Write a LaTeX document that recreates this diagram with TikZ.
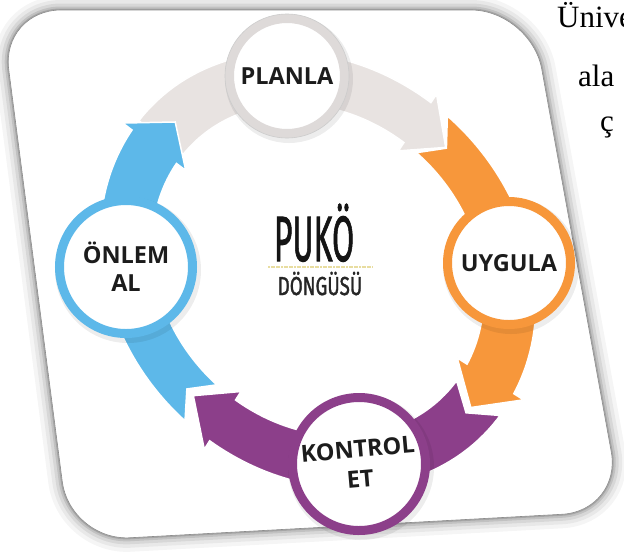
\documentclass[tikz,border=0pt]{standalone}
\usepackage{fontspec}
\usepackage{graphicx}
\setmainfont{Liberation Serif}
\newfontfamily\lblfont{Open Sans}
\newfontfamily\titlefont[FakeBold=1.6]{Fira Sans}
\definecolor{cblue}{HTML}{5DB8E9}
\definecolor{corange}{HTML}{F7973B}
\definecolor{cpurple}{HTML}{8C3F8A}
\definecolor{cgray}{HTML}{E8E3E1}
\definecolor{cring}{HTML}{DEDAD9}
\definecolor{ctext}{HTML}{1C1C1C}
\definecolor{cline}{HTML}{E8DDA0}
\newcommand{\bandarrow}[5]{%
 \fill[#5, draw=white, line width=1.5pt] (#1:201) arc[start angle=#1, end angle=#3, radius=201]
   -- (#3:211) -- (#4:177) -- (#3:143) -- (#3:153) arc[start angle=#3, end angle=#1, radius=153]
   -- ({#1-#2}:177) -- cycle;}
\tikzset{
 stage/.style={circle, fill=white, line width=9pt, align=center, inner sep=0pt,
   font=\lblfont\bfseries\fontsize{23.5}{28}\selectfont, text=ctext,
   preaction={draw=black, line width=13pt, opacity=0.07, transform canvas={shift={(2pt,-3pt)}}}},
 sidetext/.style={anchor=base west, inner sep=0pt, font=\fontsize{31}{31}\selectfont},
 cardshape/.style={rounded corners=60pt}
}
\begin{document}
\begin{tikzpicture}[x=1pt,y=1pt]
\useasboundingbox (0,0) rectangle (624,-558);
\fill[white] (0,0) rectangle (624,-558);
% card with soft shadow
\def\card{(1,-10) -- (531,-10) -- (622,-511) -- (70,-541) -- cycle}
\foreach \w/\o in {28/0.04, 20/0.05, 13/0.07, 7/0.10, 3/0.14}{
  \draw[cardshape, line width=\w pt, black, opacity=\o] \card;}
\fill[cardshape, white] \card;
\draw[cardshape, black!45, line width=0.6pt] \card;
% arrows on an elliptical band
\begin{scope}[shift={(318,-270)}, rotate=-45, xscale=1.162]
  \bandarrow{186}{0}{99.5}{89}{cgray}
  \bandarrow{94.3}{5.6}{14.7}{3.5}{corange}
  \bandarrow{7.4}{6.2}{-79.1}{-89.8}{cpurple}
  \bandarrow{-86.9}{5.5}{-170.7}{-181.2}{cblue}
\end{scope}
% stages
\node[stage, draw=cring, minimum size=115pt] (planla) at (287,-76) {PLANLA};
\draw[black!20, line width=0.6pt] (planla) circle[radius=62];
\node[stage, draw=corange, minimum size=123pt] (uygula) at (509,-263) {UYGULA};
\node[stage, draw=cpurple, minimum size=133pt, rotate=5] (kontrol) at (359,-464) {KONTROL\\[2pt]ET};
\node[stage, draw=cblue, minimum size=133pt] (onlem) at (126,-267) {ÖNLEM\\AL};
% centre title
\node[inner sep=0pt, anchor=base, text=black!92] (puko) at (314,-261)
  {\scalebox{0.5}[1]{\titlefont\fontsize{64}{64}\selectfont PUKÖ}};
\coordinate (ulL) at (268,-267);
\coordinate (ulR) at (373,-267);
\draw[cline, line width=1.4pt, dash pattern=on 2pt off 0.6pt] (ulL) -- (ulR);
\node[inner sep=0pt, anchor=base, text=black!85] (dongusu) at (320,-295)
  {\scalebox{0.72}[1]{\titlefont\fontsize{26}{26}\selectfont DÖNGÜSÜ}};
% text of the surrounding page
\node[sidetext] (t1) at (557,-27) {Ünive};
\node[sidetext] (t2) at (578,-86) {ala};
\node[sidetext] (t3) at (600,-131) {ç};
\end{tikzpicture}
\end{document}
